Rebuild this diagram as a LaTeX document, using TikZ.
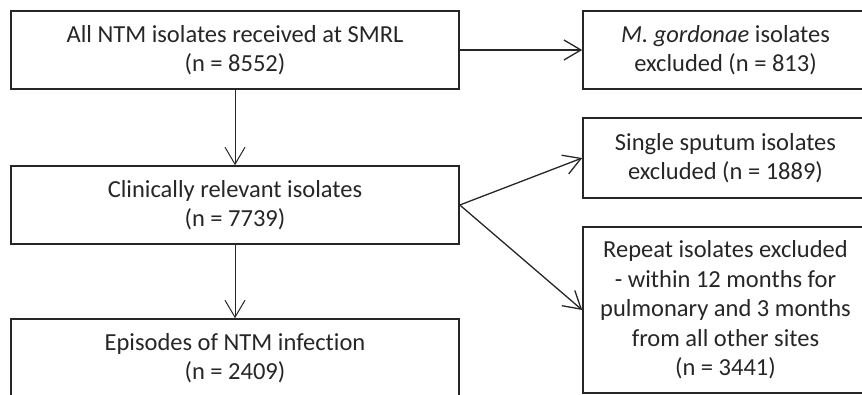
\documentclass[tikz,border=0pt]{standalone}
\usepackage{fontspec}
\setmainfont{Carlito}[Ligatures=NoCommon]
\usetikzlibrary{arrows.meta}

\begin{document}
\begin{tikzpicture}[x=1pt, y=-1pt,
        box/.style = {draw, line width=1.6pt, align=center, inner sep=0pt,
                      font=\fontsize{24.5}{29.5}\selectfont, color=black!85},
        link/.style = {draw, line width=1.3pt, color=black!85,
                       -{Straight Barb[length=17pt, width=20pt]}}]
        \useasboundingbox (0,0) rectangle (862,394);
        \clip (0,0) rectangle (862,394);
        % left column
        \node[box, minimum width=448pt, minimum height=78pt](all)at(235,50)
            {All NTM isolates received at SMRL\\(n = 8552)};
        \node[box, minimum width=448pt, minimum height=78pt](relevant)at(235,205)
            {Clinically relevant isolates\\(n = 7739)};
        \node[box, minimum width=448pt, minimum height=78pt](episodes)at(235,358)
            {Episodes of NTM infection\\(n = 2409)};
        % excluded
        \node[box, minimum width=285pt, minimum height=78pt](gordonae)at(725.5,50)
            {\textit{M. gordonae} isolates\\excluded (n = 813)};
        \node[box, minimum width=285pt, minimum height=80pt](single)at(725.5,158)
            {Single sputum isolates\\excluded (n = 1889)};
        \node[box, minimum width=285pt, minimum height=166pt](repeat)at(725.5,310)
            {Repeat isolates excluded\\- within 12 months for\\pulmonary and 3 months\\from all other sites\\(n = 3441)};
        % arrows
        \path[link](all.east)to(gordonae.west);
        \path[link, line width=1pt](all.south)to(relevant.north);
        \path[link](relevant.east)to(single.west);
        \path[link](relevant.east)to(repeat.west);
        \path[link, line width=1pt](relevant.south)to(episodes.north);
\end{tikzpicture}
\end{document}
